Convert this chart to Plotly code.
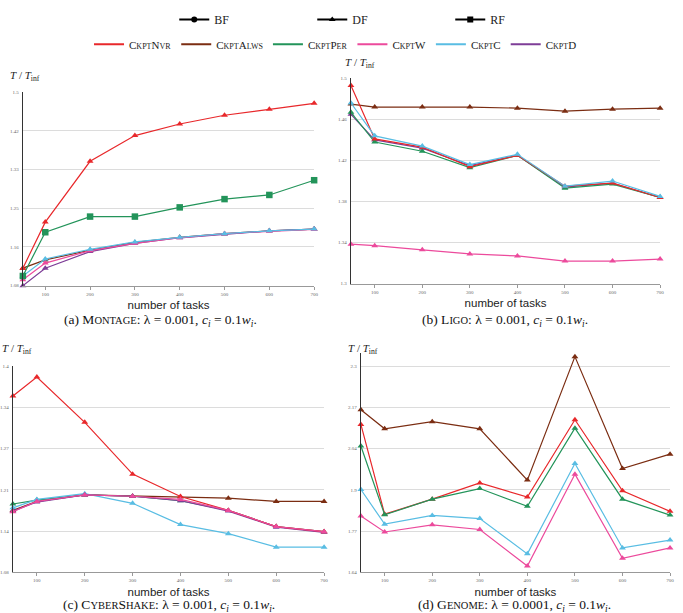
import plotly.graph_objects as go
import numpy as np

tasks = [50, 100, 200, 300, 400, 500, 600, 700]
xtick_vals = [100, 200, 300, 400, 500, 600, 700]

# (a) Montage
montage_nvr = [1.118, 1.218, 1.350, 1.406, 1.431, 1.450, 1.463, 1.476]
montage_alws = [1.118, 1.136, 1.157, 1.174, 1.185, 1.193, 1.199, 1.203]
montage_per = [1.101, 1.196, 1.230, 1.230, 1.250, 1.268, 1.277, 1.309]
montage_w = [1.093, 1.129, 1.156, 1.172, 1.184, 1.193, 1.198, 1.202]
montage_c = [1.101, 1.138, 1.159, 1.175, 1.185, 1.193, 1.199, 1.203]
montage_d = [1.080, 1.118, 1.154, 1.172, 1.184, 1.192, 1.199, 1.203]
montage_ticks = ["1.08", "1.16", "1.25", "1.33", "1.42", "1.5"]

# (b) Ligo
ligo_nvr = [1.493, 1.441, 1.433, 1.414, 1.425, 1.395, 1.398, 1.384]
ligo_alws = [1.475, 1.472, 1.472, 1.472, 1.471, 1.468, 1.470, 1.471]
ligo_per = [1.467, 1.438, 1.429, 1.413, 1.425, 1.393, 1.397, 1.384]
ligo_w = [1.3385, 1.337, 1.333, 1.329, 1.327, 1.322, 1.322, 1.324]
ligo_c = [1.476, 1.444, 1.434, 1.416, 1.426, 1.395, 1.400, 1.385]
ligo_d = [1.465, 1.440, 1.432, 1.415, 1.425, 1.394, 1.398, 1.384]
ligo_ticks = ["1.3", "1.34", "1.38", "1.42", "1.46", "1.5"]

# (c) CyberShake
cyber_nvr = [1.3535, 1.383, 1.3126, 1.2323, 1.1976, 1.176, 1.151, 1.143]
cyber_alws = [1.176, 1.190, 1.200, 1.198, 1.197, 1.195, 1.190, 1.190]
cyber_per = [1.186, 1.192, 1.200, 1.198, 1.191, 1.176, 1.151, 1.143]
cyber_w = [1.174, 1.190, 1.200, 1.198, 1.193, 1.176, 1.151, 1.143]
cyber_c = [1.180, 1.193, 1.202, 1.187, 1.154, 1.140, 1.119, 1.119]
cyber_d = [1.175, 1.189, 1.200, 1.198, 1.191, 1.175, 1.150, 1.142]
cyber_ticks = ["1.08", "1.14", "1.21", "1.27", "1.34", "1.4"]

# (d) Genome
genome_nvr = [2.113, 1.826, 1.874, 1.926, 1.881, 2.128, 1.901, 1.835]
genome_alws = [2.160, 2.099, 2.122, 2.099, 1.935, 2.330, 1.972, 2.018]
genome_per = [2.044, 1.824, 1.874, 1.908, 1.851, 2.101, 1.874, 1.823]
genome_w = [1.820, 1.769, 1.792, 1.777, 1.660, 1.954, 1.685, 1.718]
genome_c = [1.905, 1.794, 1.822, 1.812, 1.699, 1.988, 1.718, 1.743]
genome_ticks = ["1.64", "1.77", "1.9", "2.04", "2.17", "2.3"]

COL = {
    "nvr": "#e8282b",
    "alws": "#7b2d12",
    "per": "#23945a",
    "w": "#ec4a9c",
    "c": "#59bde3",
    "d": "#7e3d97",
}

SC = 8  # small-caps size


def sc(first, rest):
    return f"{first}<span style='font-size:{SC}px'>{rest}</span>"


NAMES = {
    "nvr": sc("C", "KPT") + sc("N", "VR"),
    "alws": sc("C", "KPT") + sc("A", "LWS"),
    "per": sc("C", "KPT") + sc("P", "ER"),
    "w": sc("C", "KPT") + "W",
    "c": sc("C", "KPT") + "C",
    "d": sc("C", "KPT") + "D",
}

fig = go.Figure()

# (suffix, series, nominal range with ticks, extra top of range)
panels = [
    ("", [("alws", montage_alws, "triangle-up"), ("d", montage_d, "triangle-up"),
          ("w", montage_w, "triangle-up"), ("c", montage_c, "triangle-up"),
          ("per", montage_per, "square"), ("nvr", montage_nvr, "triangle-up")],
     (1.08, 1.5), montage_ticks),
    ("2", [("alws", ligo_alws, "triangle-up"), ("d", ligo_d, "triangle-up"),
           ("per", ligo_per, "triangle-up"), ("nvr", ligo_nvr, "triangle-up"),
           ("c", ligo_c, "triangle-up"), ("w", ligo_w, "triangle-up")],
     (1.3, 1.5), ligo_ticks),
    ("3", [("alws", cyber_alws, "triangle-up"), ("per", cyber_per, "triangle-up"),
           ("c", cyber_c, "triangle-up"), ("d", cyber_d, "triangle-up"),
           ("nvr", cyber_nvr, "triangle-up"), ("w", cyber_w, "triangle-up")],
     (1.08, 1.4), cyber_ticks),
    ("4", [("alws", genome_alws, "triangle-up"), ("w", genome_w, "triangle-up"),
           ("c", genome_c, "triangle-up"), ("nvr", genome_nvr, "triangle-up"),
           ("per", genome_per, "triangle-up")],
     (1.64, 2.3), genome_ticks),
]

W, H = 683, 613
# (x0, x1), (y_top_gridline, y_bottom), extra px above top gridline
domains = [
    ((23, 316), (91, 286), 0),
    ((353, 664), (77, 284), 0),
    ((13, 326), (367, 575), 0),
    ((363, 674), (367, 575), 13),
]

for (suffix, series, yr, ticks), ((x0, x1), (y0, y1), extra) in zip(panels, domains):
    for key, vals, sym in series:
        fig.add_trace(go.Scatter(
            x=tasks, y=vals, mode="lines+markers",
            line=dict(color=COL[key], width=1.2),
            marker=dict(symbol=sym, size=6 if sym == "triangle-up" else 6.5,
                        color=COL[key]),
            xaxis="x" + suffix, yaxis="y" + suffix, showlegend=False,
            cliponaxis=False, hoverinfo="skip"))
    tv = list(np.linspace(yr[0], yr[1], 6))
    top = yr[1] + extra / (y1 - y0) * (yr[1] - yr[0])
    fig.layout["xaxis" + suffix] = dict(
        domain=[x0 / W, x1 / W], anchor="y" + suffix, range=[50, 700],
        tickvals=xtick_vals, ticks="outside", ticklen=3, tickcolor="#999",
        tickfont=dict(family="Liberation Serif", size=5, color="#666"),
        showgrid=False, zeroline=False, showline=True, linecolor="#999",
        linewidth=1,
        title=dict(text="number of tasks", standoff=5,
                   font=dict(family="Liberation Sans", size=11.5, color="#222")))
    fig.layout["yaxis" + suffix] = dict(
        domain=[1 - y1 / H, 1 - (y0 - extra) / H], anchor="x" + suffix,
        range=[yr[0], top],
        tickvals=tv, ticktext=ticks, ticks="", ticklabelstandoff=2,
        tickfont=dict(family="Liberation Serif", size=5, color="#666"),
        showgrid=True, gridcolor="#dcdcdc", gridwidth=1, zeroline=False,
        showline=True, linecolor="#333", linewidth=1.3)

# legend entries
for name, sym in [("BF", "circle"), ("DF", "triangle-up"), ("RF", "square")]:
    fig.add_trace(go.Scatter(x=[None], y=[None], mode="lines+markers", name=name,
                             line=dict(color="black", width=2),
                             marker=dict(symbol=sym, size=6, color="black"),
                             legend="legend"))
for key in ["nvr", "alws", "per", "w", "c", "d"]:
    fig.add_trace(go.Scatter(x=[None], y=[None], mode="lines", name=NAMES[key],
                             line=dict(color=COL[key], width=2),
                             legend="legend2"))

ann = []
ytitle_pos = [(8, 75), (345, 62), (0, 350), (348, 350)]
for (xp, yp) in ytitle_pos:
    ann.append(dict(text="<i>T</i> / <i>T</i><sub><span style='color:#222'>inf</span></sub>",
                    x=xp / W, y=1 - yp / H,
                    xref="paper", yref="paper", xanchor="left", yanchor="middle",
                    showarrow=False,
                    font=dict(family="Liberation Serif", size=11, color="#222")))

S2 = 10.5
captions = [
    ("(a) M<span style='font-size:%spx'>ONTAGE</span>: λ = 0.001, <i>c<sub>i</sub></i> = 0.1<i>w<sub>i</sub></i>." % S2, 161, 321),
    ("(b) L<span style='font-size:%spx'>IGO</span>: λ = 0.001, <i>c<sub>i</sub></i> = 0.1<i>w<sub>i</sub></i>." % S2, 508, 321),
    ("(c) C<span style='font-size:%spx'>YBER</span>S<span style='font-size:%spx'>HAKE</span>: λ = 0.001, <i>c<sub>i</sub></i> = 0.1<i>w<sub>i</sub></i>." % (S2, S2), 170, 608),
    ("(d) G<span style='font-size:%spx'>ENOME</span>: λ = 0.0001, <i>c<sub>i</sub></i> = 0.1<i>w<sub>i</sub></i>." % S2, 518, 608),
]
for txt, xp, yp in captions:
    ann.append(dict(text=txt, x=xp / W, y=1 - yp / H, xref="paper", yref="paper",
                    xanchor="center", yanchor="middle", showarrow=False,
                    font=dict(family="Liberation Serif", size=13.5, color="#111")))

fig.update_layout(
    width=W, height=H, margin=dict(l=0, r=0, t=0, b=0),
    paper_bgcolor="white", plot_bgcolor="white",
    annotations=ann,
    legend=dict(orientation="h", x=0.5 + 42 / W, xanchor="center", y=1 - 3 / H,
                yanchor="top", entrywidth=93, itemwidth=30,
                font=dict(family="Liberation Serif", size=12, color="#222"),
                bgcolor="rgba(0,0,0,0)"),
    legend2=dict(orientation="h", x=0.5 - 4 / W, xanchor="center", y=1 - 28 / H,
                 yanchor="top", itemwidth=30,
                 font=dict(family="Liberation Serif", size=11, color="#222"),
                 bgcolor="rgba(0,0,0,0)"),
)

fig.write_html("out.html")
